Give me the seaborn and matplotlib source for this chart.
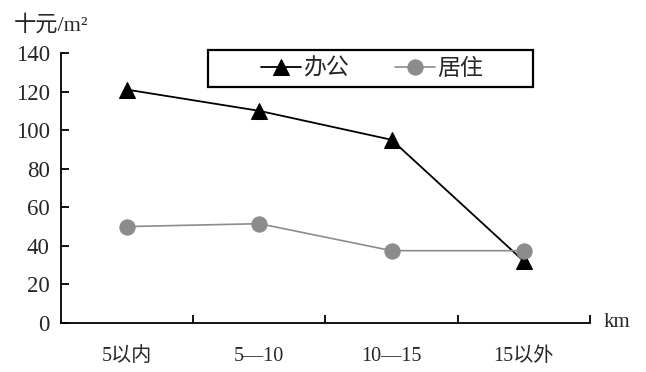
import matplotlib
matplotlib.use("Agg")
import matplotlib.pyplot as plt
from matplotlib.patches import Rectangle
import seaborn as sns
import pandas as pd

categories = ["5以内", "5—10", "10—15", "15以外"]
office = [121, 110, 95, 32]
residential = [50, 51.5, 37.5, 37.5]
y_ticks = [0, 20, 40, 60, 80, 100, 120, 140]

sns.set_style("white")
plt.rcParams["font.family"] = ["Liberation Serif", "Noto Sans CJK SC"]
plt.rcParams["axes.unicode_minus"] = False
plt.rcParams["ytick.left"] = True
plt.rcParams["xtick.bottom"] = True

pos = list(range(len(categories)))
df_office = pd.DataFrame({"x": pos, "y": office})
df_res = pd.DataFrame({"x": pos, "y": residential})

fig = plt.figure(figsize=(6.46, 3.72), dpi=100)
ax = fig.add_axes([0.0944, 0.1317, 0.8189, 0.7258])

sns.lineplot(data=df_office, x="x", y="y", ax=ax, color="black", lw=1.3,
             marker="^", markersize=12, markeredgecolor="black", label="办公")
sns.lineplot(data=df_res, x="x", y="y", ax=ax, color="#8c8c8c", lw=1.2,
             marker="o", markersize=11, markeredgecolor="#8c8c8c", label="居住")

ax.set_xlim(-0.5, 3.5)
ax.set_ylim(0, 140)
ax.set_yticks(y_ticks)
ax.set_xticks([0.5, 1.5, 2.5, 3.5])
ax.set_xticklabels([])
ax.set_xticks(pos, minor=True)
ax.set_xticklabels(categories, minor=True, fontsize=14.5)
ax.tick_params(axis="x", which="major", bottom=True, direction="in", length=6, width=1.3, color="black")
ax.tick_params(axis="x", which="minor", bottom=True, length=0, pad=17)
ax.tick_params(axis="y", left=True, direction="in", length=6, width=1.3, color="black",
               labelsize=16.5, pad=8)
ax.set_xlabel("")
ax.set_ylabel("")

for s in ["top", "right"]:
    ax.spines[s].set_visible(False)
for s in ["left", "bottom"]:
    ax.spines[s].set_color("black")
    ax.spines[s].set_linewidth(1.3)

fig.text(0.022, 0.905, "十元/m²", fontsize=16, ha="left", va="bottom")
fig.text(0.935, 0.132, "km", fontsize=15, ha="left", va="center")

# legend box drawn as a plain rectangle, entries placed inside
fig.patches.append(Rectangle((0.322, 0.766), 0.503, 0.099, transform=fig.transFigure,
                             fill=False, edgecolor="black", lw=1.6))
leg = ax.legend(loc="center", bbox_to_anchor=(0.576, 0.816), bbox_transform=fig.transFigure,
                ncol=2, frameon=False, fontsize=16.5, handlelength=1.75,
                columnspacing=2.0, handletextpad=0.1, borderpad=0.2)
for t in leg.get_texts():
    t.set_family(["Noto Sans CJK SC", "DejaVu Sans"])

fig.savefig("out.png", dpi=100)
